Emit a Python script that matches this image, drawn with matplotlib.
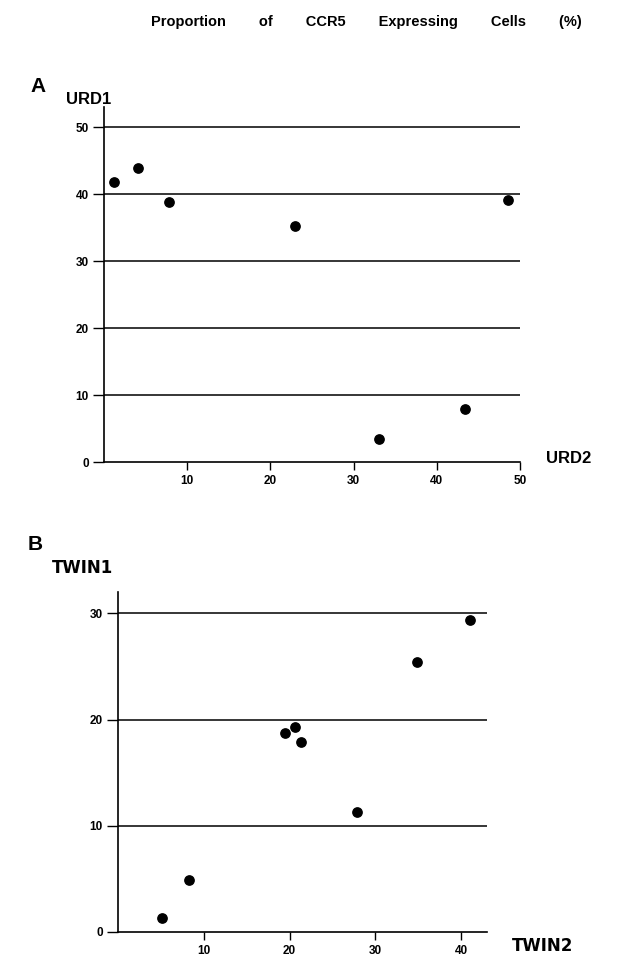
import matplotlib
matplotlib.use('Agg')
import matplotlib.pyplot as plt

plt.rcParams['font.family'] = ['Liberation Sans', 'DejaVu Sans']

# panel A: URD2 (x) vs URD1 (y)
urd2 = [1.2, 4.1, 7.8, 23.0, 33.0, 43.4, 48.6]
urd1 = [41.8, 43.9, 38.8, 35.2, 3.5, 7.9, 39.1]
a_ticks = [0, 10, 20, 30, 40, 50]

# panel B: TWIN2 (x) vs TWIN1 (y)
twin2 = [5.1, 8.3, 19.5, 20.6, 21.3, 27.8, 34.8, 41.0]
twin1 = [1.3, 4.9, 18.7, 19.3, 17.9, 11.3, 25.4, 29.4]
b_yticks = [0, 10, 20, 30]
b_xticks = [10, 20, 30, 40]

W, H = 622, 959
fig = plt.figure(figsize=(W / 100, H / 100), dpi=100)


def box(l, r, top, bot):
    return [l / W, 1 - bot / H, (r - l) / W, (bot - top) / H]


def style(ax):
    for s in ['top', 'right']:
        ax.spines[s].set_visible(False)
    for s in ['left', 'bottom']:
        ax.spines[s].set_linewidth(1.2)
    ax.tick_params(direction='out', length=6, width=1, labelsize=8.5, pad=3)
    ax.tick_params(axis='y', length=8)
    for lab in ax.get_xticklabels() + ax.get_yticklabels():
        lab.set_fontweight('bold')


gap = ' ' * 8
title = gap.join(['Proportion', 'of', 'CCR5', 'Expressing', 'Cells', '(%)'])
fig.text(366 / W, 1 - 22 / H, title, ha='center', va='center',
         fontsize=10.5, fontweight='bold')

# ---- A
ax1 = fig.add_axes(box(104, 520, 107, 462))
ax1.set_xlim(0, 50)
ax1.set_ylim(0, 53)
for t in a_ticks[1:]:
    ax1.axhline(t, color='black', lw=1.1)
ax1.scatter(urd2, urd1, s=45, color='black', zorder=3)
ax1.set_yticks(a_ticks)
ax1.set_xticks(a_ticks[1:])
style(ax1)
fig.text(30 / W, 1 - 86 / H, 'A', fontsize=15, fontweight='bold', va='center')
fig.text(66 / W, 1 - 99 / H, 'URD1', fontsize=12, fontweight='bold', va='center')
fig.text(546 / W, 1 - 458 / H, 'URD2', fontsize=12, fontweight='bold', va='center')

# ---- B
ax2 = fig.add_axes(box(118, 487, 592, 932))
ax2.set_xlim(0, 43)
ax2.set_ylim(0, 32)
for t in b_yticks[1:]:
    ax2.axhline(t, color='black', lw=1.1)
ax2.scatter(twin2, twin1, s=45, color='black', zorder=3)
ax2.set_yticks(b_yticks)
ax2.set_xticks(b_xticks)
style(ax2)
fig.text(28 / W, 1 - 545 / H, 'B', fontsize=15, fontweight='bold', va='center')
fig.text(52 / W, 1 - 568 / H, 'TWIN1', fontsize=12, fontweight='bold', va='center',
         family='DejaVu Sans')
fig.text(512 / W, 1 - 946 / H, 'TWIN2', fontsize=12, fontweight='bold', va='center',
         family='DejaVu Sans')

fig.savefig('out.png', dpi=100)
